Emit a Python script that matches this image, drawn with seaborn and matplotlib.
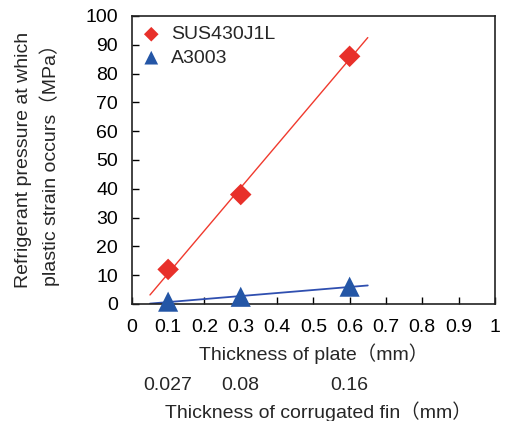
import numpy as np
import pandas as pd
import matplotlib
matplotlib.use("Agg")
import matplotlib.pyplot as plt
from matplotlib.ticker import FuncFormatter
import seaborn as sns

# data
plate_mm = [0.1, 0.3, 0.6]
fin_mm = ["0.027", "0.08", "0.16"]
sus_mpa = [12, 38, 86]
a3003_mpa = [0.8, 2.5, 6]
fit_range = [0.05, 0.65]

sns.set_style("ticks")
plt.rcParams["font.family"] = ["Liberation Sans", "Noto Sans CJK JP", "DejaVu Sans"]

df = pd.DataFrame({
    "plate": plate_mm * 2,
    "pressure": sus_mpa + a3003_mpa,
    "material": ["SUS430J1L"] * 3 + ["A3003"] * 3,
})

colors = {"SUS430J1L": "#E8302A", "A3003": "#2456A6"}
line_colors = {"SUS430J1L": "#F03A2E", "A3003": "#2F4FB0"}
markers = {"SUS430J1L": "D", "A3003": "^"}
sizes = {"SUS430J1L": 120, "A3003": 210}
fs = 14

fig = plt.figure(figsize=(5.07, 4.21), dpi=100)
ax = fig.add_axes([0.260, 0.278, 0.716, 0.684])

# linear trend lines
for mat, vals in [("SUS430J1L", sus_mpa), ("A3003", a3003_mpa)]:
    k, b = np.polyfit(plate_mm, vals, 1)
    xs = np.array(fit_range)
    ax.plot(xs, k * xs + b, color=line_colors[mat],
            lw=1.0 if mat == "SUS430J1L" else 1.3, zorder=2)

for mat in ["SUS430J1L", "A3003"]:
    sub = df[df["material"] == mat]
    sns.scatterplot(data=sub, x="plate", y="pressure", ax=ax,
                    color=colors[mat], marker=markers[mat], s=sizes[mat],
                    edgecolor="none", label=mat, zorder=3, clip_on=False)

ax.set_xlim(0, 1)
ax.set_ylim(0, 100)
ax.set_xticks(np.arange(0, 1.01, 0.1))
ax.set_yticks(np.arange(0, 101, 10))
ax.xaxis.set_major_formatter(FuncFormatter(lambda v, p: f"{v:g}"))
ax.tick_params(direction="in", length=5, width=1, labelsize=fs,
               colors="black")
ax.tick_params(axis="x", pad=11)
ax.tick_params(axis="y", pad=10)
for sp in ax.spines.values():
    sp.set_visible(True)
    sp.set_linewidth(1.2)
    sp.set_color("#222222")

ax.set_xlabel("Thickness of plate（mm）", fontsize=fs, labelpad=5)
ax.set_ylabel("Refrigerant pressure at which\nplastic strain occurs（MPa）",
              fontsize=fs, labelpad=18, linespacing=1.45)

# secondary scale for the fin thickness
sec = ax.secondary_xaxis(-0.255)
sec.set_xticks(plate_mm)
sec.set_xticklabels(fin_mm)
sec.spines["bottom"].set_visible(False)
sec.tick_params(length=0, pad=0, labelsize=fs)
sec.set_xlabel("Thickness of corrugated fin（mm）", fontsize=fs, labelpad=5)
sec.xaxis.label.set_x(0.515)

ax.legend(loc="upper left", frameon=False, fontsize=fs, markerscale=0.68,
          handlelength=1.0, handletextpad=0.5, borderaxespad=0.2,
          borderpad=0.3, labelspacing=0.3)

fig.savefig("out.png", dpi=100)
